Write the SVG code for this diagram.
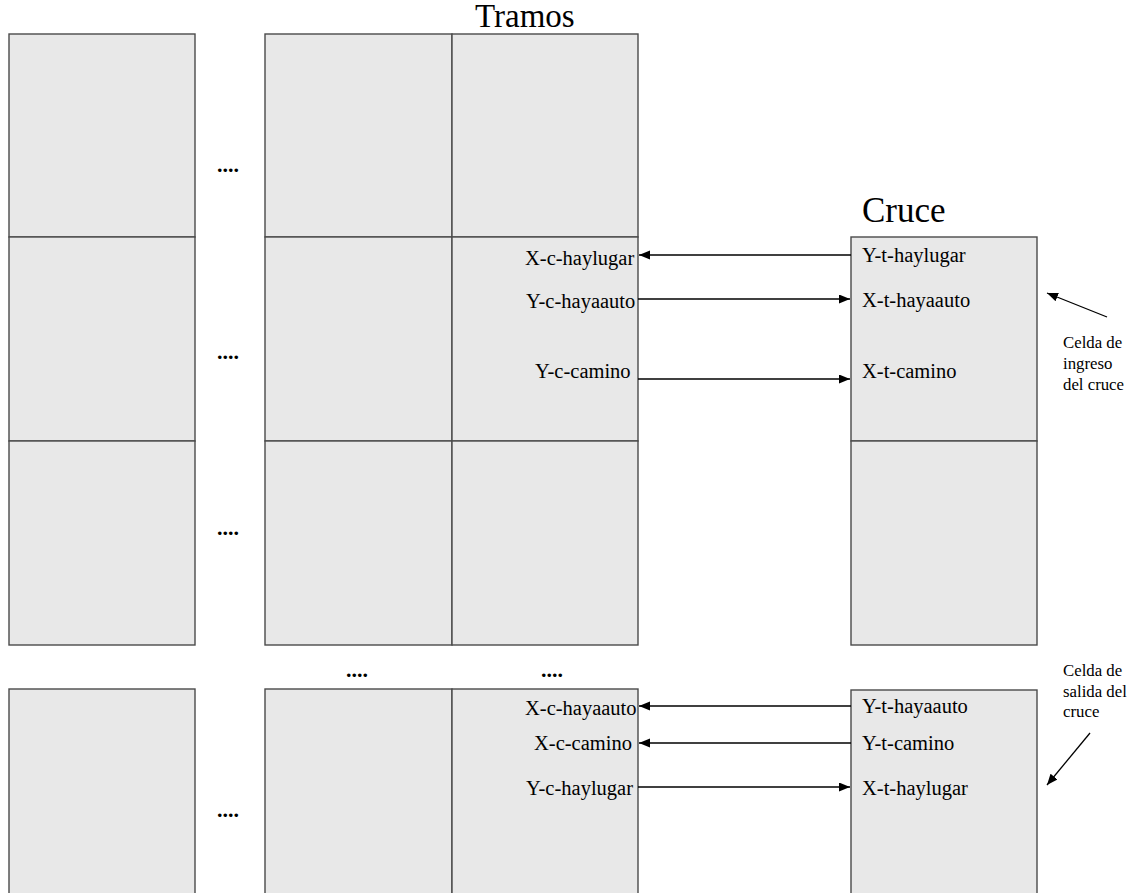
<svg xmlns="http://www.w3.org/2000/svg" width="1139" height="893" viewBox="0 0 1139 893">
  <style>
    .cell { fill: #e8e8e8; stroke: #4a4a4a; stroke-width: 1.4; }
    .lbl { font-family: "Liberation Serif", "Times New Roman", serif; font-size: 20.5px; fill: #000; }
    .title { font-family: "Liberation Serif", "Times New Roman", serif; fill: #000; }
    .note { font-family: "Liberation Serif", "Times New Roman", serif; font-size: 16.8px; fill: #000; }
    .dots { font-family: "Liberation Serif", "Times New Roman", serif; font-size: 22px; font-weight: bold; fill: #000; }
    .wire { stroke: #000; stroke-width: 1.3; fill: none; marker-end: url(#arrow); }
  </style>
  <defs>
    <marker id="arrow" markerUnits="userSpaceOnUse" markerWidth="12" markerHeight="10" refX="11" refY="4.5" orient="auto">
      <path d="M0,0 L11,4.5 L0,9 z" fill="#000"/>
    </marker>
  </defs>

  <rect width="1139" height="893" fill="#fff"/>

  <!-- Headings -->
  <text class="title" x="475" y="27" font-size="33">Tramos</text>
  <text class="title" x="862" y="222" font-size="35">Cruce</text>

  <!-- Road segment cells: first column -->
  <g id="tramo-col1">
    <rect class="cell" x="9" y="34" width="186" height="203"/>
    <rect class="cell" x="9" y="237" width="186" height="204"/>
    <rect class="cell" x="9" y="441" width="186" height="204"/>
    <rect class="cell" x="9" y="689" width="186" height="220"/>
  </g>

  <!-- Road segment cells: second-to-last column -->
  <g id="tramo-col2">
    <rect class="cell" x="265" y="34" width="187" height="203"/>
    <rect class="cell" x="265" y="237" width="187" height="204"/>
    <rect class="cell" x="265" y="441" width="187" height="204"/>
    <rect class="cell" x="265" y="689" width="187" height="220"/>
  </g>

  <!-- Road segment cells: last column (adjacent to the crossing) -->
  <g id="tramo-col3">
    <rect class="cell" x="452" y="34" width="186" height="203"/>
    <g id="tramo-ingreso">
      <rect class="cell" x="452" y="237" width="186" height="204"/>
      <text class="lbl" x="525" y="265">X-c-haylugar</text>
      <text class="lbl" x="526" y="308">Y-c-hayaauto</text>
      <text class="lbl" x="535" y="378">Y-c-camino</text>
    </g>
    <rect class="cell" x="452" y="441" width="186" height="204"/>
    <g id="tramo-salida">
      <rect class="cell" x="452" y="689" width="186" height="220"/>
      <text class="lbl" x="525" y="715">X-c-hayaauto</text>
      <text class="lbl" x="534" y="750">X-c-camino</text>
      <text class="lbl" x="526" y="795">Y-c-haylugar</text>
    </g>
  </g>

  <!-- Crossing cells -->
  <g id="cruce-ingreso">
    <rect class="cell" x="851" y="237" width="186" height="204"/>
    <text class="lbl" x="862" y="262">Y-t-haylugar</text>
    <text class="lbl" x="862" y="307">X-t-hayaauto</text>
    <text class="lbl" x="862" y="378">X-t-camino</text>
  </g>
  <g id="cruce-interior">
    <rect class="cell" x="851" y="441" width="186" height="204"/>
  </g>
  <g id="cruce-salida">
    <rect class="cell" x="851" y="690" width="186" height="220"/>
    <text class="lbl" x="862" y="713">Y-t-hayaauto</text>
    <text class="lbl" x="862" y="750">Y-t-camino</text>
    <text class="lbl" x="862" y="795">X-t-haylugar</text>
  </g>

  <!-- Ellipses marking omitted segments -->
  <g id="elisiones">
    <text class="dots" x="217" y="172">....</text>
    <text class="dots" x="217" y="359">....</text>
    <text class="dots" x="217" y="535">....</text>
    <text class="dots" x="346" y="677">....</text>
    <text class="dots" x="541" y="677">....</text>
    <text class="dots" x="217" y="817">....</text>
  </g>

  <!-- Notes -->
  <g id="nota-ingreso">
    <text class="note" x="1063" y="348">Celda de</text>
    <text class="note" x="1063" y="369">ingreso</text>
    <text class="note" x="1063" y="390">del cruce</text>
  </g>
  <g id="nota-salida">
    <text class="note" x="1063" y="676">Celda de</text>
    <text class="note" x="1063" y="697">salida del</text>
    <text class="note" x="1063" y="717">cruce</text>
  </g>

  <!-- Connectors -->
  <g id="conectores">
    <line class="wire" x1="851" y1="255" x2="639" y2="255"/>
    <line class="wire" x1="638" y1="299" x2="850" y2="299"/>
    <line class="wire" x1="638" y1="379" x2="850" y2="379"/>
    <line class="wire" x1="851" y1="706" x2="639" y2="706"/>
    <line class="wire" x1="851" y1="743" x2="639" y2="743"/>
    <line class="wire" x1="638" y1="787" x2="850" y2="787"/>
    <line class="wire" x1="1107" y1="317" x2="1047" y2="293"/>
    <line class="wire" x1="1090" y1="733" x2="1047" y2="785"/>
  </g>
</svg>
